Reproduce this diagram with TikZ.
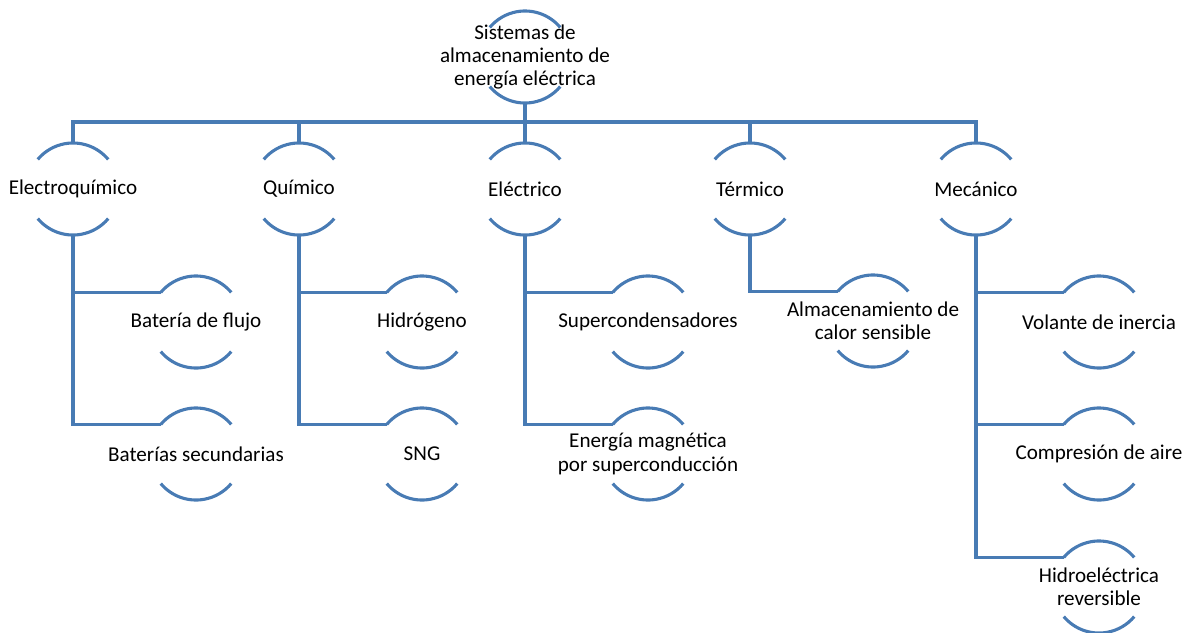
\documentclass[tikz,border=0pt]{standalone}
\usepackage{fontspec}
\setmainfont{Carlito}
\usepackage{tikz}
\usetikzlibrary{positioning}
\definecolor{SmartBlue}{RGB}{72,123,180}
\tikzset{
  lbl/.style={inner sep=0pt, align=center, font=\fontsize{15}{16.5}\selectfont},
  link/.style={draw=SmartBlue, line width=2.2pt},
  arcs/.style={draw=SmartBlue, line width=2.2pt},
}
\newcommand{\rad}{1.15cm}

\begin{document}
\begin{tikzpicture}[x=0.025cm,y=-0.025cm]
\useasboundingbox (0,0) rectangle (1189,632);
% root
\node[lbl] (root) at (525,57) {Sistemas de\\almacenamiento de\\energía eléctrica};
% first level
\node[lbl] (elq) at (73,189) {Electroquímico};
\node[lbl] (qui) at (299,189) {Químico};
\node[lbl] (ele) at (525,189) {Eléctrico};
\node[lbl] (ter) at (750,189) {Térmico};
\node[lbl] (mec) at (976,189) {Mecánico};
% second level
\node[lbl] (flujo) at (196,322) {Batería de flujo};
\node[lbl] (secund) at (196,454) {Baterías secundarias};
\node[lbl] (hidro) at (422,322) {Hidrógeno};
\node[lbl] (sng) at (422,454) {SNG};
\node[lbl] (super) at (648,322) {Supercondensadores};
\node[lbl] (smes) at (648,454) {Energía magnética\\por superconducción};
\node[lbl] (calor) at (873,321) {Almacenamiento de\\calor sensible};
\node[lbl] (volante) at (1099,322) {Volante de inercia};
\node[lbl] (aire) at (1099,454) {Compresión de aire};
\node[lbl] (bombeo) at (1099,587) {Hidroeléctrica\\reversible};

% arcs round every label
\foreach \n in {root,elq,qui,ele,ter,mec,flujo,secund,hidro,sng,super,smes,calor,volante,aire,bombeo}{
  \draw[arcs] ([shift={(40:\rad)}]\n.center) arc[start angle=40,end angle=140,radius=\rad];
  \draw[arcs] ([shift={(220:\rad)}]\n.center) arc[start angle=220,end angle=320,radius=\rad];
}

% root to first level
\foreach \n in {elq,qui,ele,ter,mec}
  \draw[link] ([yshift=-\rad]root.center) -- ++(0,19) -| ([yshift=\rad]\n.center);

% first level to second level
\draw[link] ([yshift=-\rad]elq.center) |- ([shift={(140:\rad)}]flujo.center);
\draw[link] ([yshift=-\rad]elq.center) |- ([shift={(140:\rad)}]secund.center);
\draw[link] ([yshift=-\rad]qui.center) |- ([shift={(140:\rad)}]hidro.center);
\draw[link] ([yshift=-\rad]qui.center) |- ([shift={(140:\rad)}]sng.center);
\draw[link] ([yshift=-\rad]ele.center) |- ([shift={(140:\rad)}]super.center);
\draw[link] ([yshift=-\rad]ele.center) |- ([shift={(140:\rad)}]smes.center);
\draw[link] ([yshift=-\rad]ter.center) |- ([shift={(140:\rad)}]calor.center);
\draw[link] ([yshift=-\rad]mec.center) |- ([shift={(140:\rad)}]volante.center);
\draw[link] ([yshift=-\rad]mec.center) |- ([shift={(140:\rad)}]aire.center);
\draw[link] ([yshift=-\rad]mec.center) |- ([shift={(140:\rad)}]bombeo.center);
\end{tikzpicture}
\end{document}
